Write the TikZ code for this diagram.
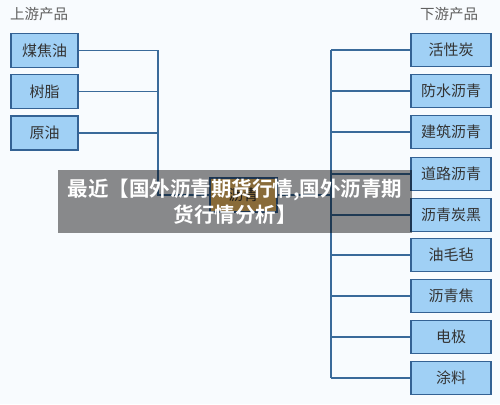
\documentclass[tikz,border=0pt]{standalone}
\usepackage{fontspec}
\newfontfamily\cjk{Noto Sans CJK SC}[BoldFont={Noto Sans CJK SC Bold}]
\definecolor{boxblue}{RGB}{160,208,245}
\definecolor{edgeblue}{RGB}{52,98,148}
\definecolor{linkblue}{RGB}{58,106,154}
\definecolor{pagebg}{RGB}{248,251,254}
\definecolor{titlegray}{RGB}{95,95,95}
\definecolor{hubfill}{RGB}{250,195,105}

\begin{document}
\begin{tikzpicture}[x=1pt, y=-1pt,
  upbox/.style={draw=edgeblue, line width=1.3pt, fill=boxblue, minimum width=67pt, minimum height=34pt, inner sep=0pt, text=black!80, font=\cjk\fontsize{15}{15}\selectfont},
  downbox/.style={upbox, minimum width=80pt, minimum height=33pt},
  hubbox/.style={upbox, fill=hubfill, minimum width=67pt},
  link/.style={draw=linkblue, line width=1.1pt},
  heading/.style={text=titlegray, font=\cjk\fontsize{14.5}{14.5}\selectfont}]

\fill[pagebg] (0,0) rectangle (500,404);
\useasboundingbox (0,0) rectangle (500,404);

\node[heading] (uptitle) at (39,14) {上游产品};
\node[heading] (downtitle) at (449,14) {下游产品};

\node[upbox] (coaltar) at (44.5,50.5) {煤焦油};
\node[upbox] (resin) at (44.5,91.5) {树脂};
\node[upbox] (crude) at (44.5,133) {原油};

\node[hubbox] (asphalt) at (243.5,195) {沥青};

\node[downbox] (carbon) at (451,50) {活性炭};
\node[downbox] (waterproof) at (451,91) {防水沥青};
\node[downbox] (building) at (451,132) {建筑沥青};
\node[downbox] (road) at (451,174) {道路沥青};
\node[downbox] (black) at (451,215) {沥青炭黑};
\node[downbox] (felt) at (451,255) {油毛毡};
\node[downbox] (coke) at (451,296) {沥青焦};
\node[downbox] (electrode) at (451,337) {电极};
\node[downbox] (paint) at (451,378) {涂料};

\coordinate (leftbus) at (158,0);
\coordinate (rightbus) at (331,0);

\draw[link] (coaltar.east) -- (coaltar.east -| leftbus);
\draw[link] (resin.east) -- (resin.east -| leftbus);
\draw[link] (crude.east) -- (crude.east -| leftbus);
\draw[link] (coaltar.east -| leftbus) |- (asphalt.west);

\draw[link] (asphalt.east) -- (asphalt.east -| rightbus);
\draw[link] (rightbus |- carbon.west) -- (rightbus |- paint.west);
\draw[link] (rightbus |- carbon.west) -- (carbon.west);
\draw[link] (rightbus |- waterproof.west) -- (waterproof.west);
\draw[link] (rightbus |- building.west) -- (building.west);
\draw[link] (rightbus |- road.west) -- (road.west);
\draw[link] (rightbus |- black.west) -- (black.west);
\draw[link] (rightbus |- felt.west) -- (felt.west);
\draw[link] (rightbus |- coke.west) -- (coke.west);
\draw[link] (rightbus |- electrode.west) -- (electrode.west);
\draw[link] (rightbus |- paint.west) -- (paint.west);

\node[fill=black, fill opacity=0.45, text opacity=1, text=white, minimum width=354pt, minimum height=63pt, align=center, font=\cjk\bfseries\fontsize{20.5}{26}\selectfont] (banner) at (235,201.5) {最近【国外沥青期货行情,国外沥青期\\货行情分析】};
\end{tikzpicture}
\end{document}
